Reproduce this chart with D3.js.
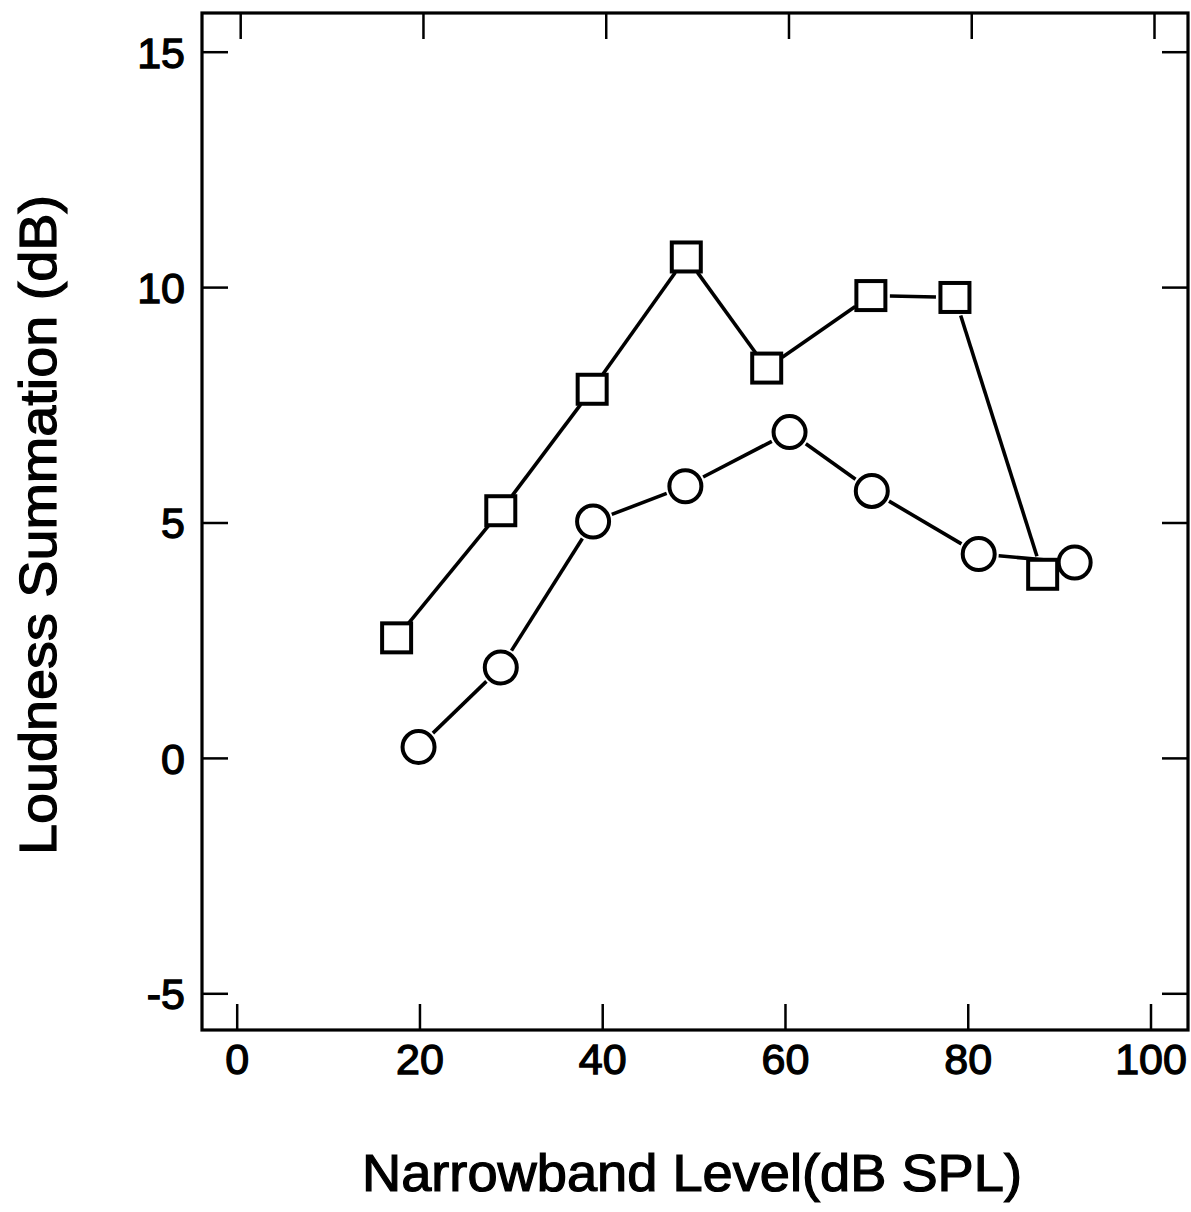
<!DOCTYPE html>
<html><head><meta charset="utf-8">
<script src="https://cdn.jsdelivr.net/npm/d3@7"></script>
<style>body{margin:0;background:#fff}svg{display:block}text{font-family:"Liberation Sans",Arial,Helvetica,sans-serif;fill:#000}</style>
</head><body>
<svg id="c" width="1191" height="1212"></svg>
<script>
const squareX = [17.5, 28.9, 38.9, 49.2, 58.0, 69.4, 78.6, 88.2];
const squareY = [2.55, 5.25, 7.83, 10.64, 8.28, 9.82, 9.78, 3.9];
const circleX = [19.9, 28.9, 39.0, 49.1, 60.5, 69.5, 81.2, 91.7];
const circleY = [0.23, 1.92, 5.02, 5.77, 6.92, 5.67, 4.33, 4.15];
const xTicks = [0, 20, 40, 60, 80, 100];
const yTicks = [-5, 0, 5, 10, 15];
const xTitle = "Narrowband Level(dB SPL)";
const yTitle = "Loudness Summation (dB)";

const svg = d3.select("#c");
const L = 202, R = 1188, T = 13, B = 1030;
const x = d3.scaleLinear().domain([0, 100]).range([236.7, 1150.5]);
const y = d3.scaleLinear().domain([-5, 15]).range([993.3, 51.7]);

const tl = 26, tw = 2.5, fs = 43;
function styleText(sel) {
  sel.attr("font-size", fs).attr("stroke", "#000").attr("stroke-width", 1.3).attr("fill", "#000");
}
svg.append("g").attr("transform", `translate(0,${B})`)
  .call(d3.axisBottom(x).tickValues(xTicks).tickSizeInner(-tl).tickSizeOuter(0))
  .call(g => g.select(".domain").remove())
  .call(g => g.selectAll("line").attr("stroke-width", tw))
  .call(g => g.selectAll("text").attr("dy", "0.72em").attr("y", 13).call(styleText));
svg.append("g").attr("transform", `translate(3.5,${T})`)
  .call(d3.axisTop(x).tickValues(xTicks).tickSizeInner(-tl).tickSizeOuter(0).tickFormat(""))
  .call(g => g.select(".domain").remove())
  .call(g => g.selectAll("line").attr("stroke-width", tw));
svg.append("g").attr("transform", `translate(${L},0)`)
  .call(d3.axisLeft(y).tickValues(yTicks).tickSizeInner(-tl).tickSizeOuter(0))
  .call(g => g.select(".domain").remove())
  .call(g => g.selectAll("line").attr("stroke-width", tw))
  .call(g => g.selectAll("text").attr("x", -17).attr("dy", "0.36em").call(styleText));
svg.append("g").attr("transform", `translate(${R},0)`)
  .call(d3.axisRight(y).tickValues(yTicks).tickSizeInner(-tl).tickSizeOuter(0).tickFormat(""))
  .call(g => g.select(".domain").remove())
  .call(g => g.selectAll("line").attr("stroke-width", tw));
svg.selectAll(".tick text").text(function(){ return this.textContent.replace("\u2212", "-"); });

svg.append("rect").attr("x", L).attr("y", T).attr("width", R - L).attr("height", B - T)
  .attr("fill", "none").attr("stroke", "#000").attr("stroke-width", 3.2);

function series(xs, ys, r) {
  const pts = xs.map((v, i) => [x(v), y(ys[i])]);
  const g = svg.append("g");
  for (let i = 0; i < pts.length - 1; i++) {
    const [x1, y1] = pts[i], [x2, y2] = pts[i + 1];
    const d = Math.hypot(x2 - x1, y2 - y1), ux = (x2 - x1) / d, uy = (y2 - y1) / d;
    g.append("line").attr("x1", x1 + ux * r).attr("y1", y1 + uy * r)
      .attr("x2", x2 - ux * r).attr("y2", y2 - uy * r)
      .attr("stroke", "#000").attr("stroke-width", 3.6);
  }
  return pts;
}
const cp = series(circleX, circleY, 20);
const sp = series(squareX, squareY, 19);
svg.append("g").selectAll("circle").data(cp).join("circle")
  .attr("cx", d => d[0]).attr("cy", d => d[1]).attr("r", 16)
  .attr("fill", "#fff").attr("stroke", "#000").attr("stroke-width", 4);
svg.append("g").selectAll("rect").data(sp).join("rect")
  .attr("x", d => d[0] - 14.5).attr("y", d => d[1] - 14.5).attr("width", 29).attr("height", 29)
  .attr("fill", "#fff").attr("stroke", "#000").attr("stroke-width", 4);

svg.append("text").attr("x", 362).attr("y", 1191)
  .attr("font-size", 51).attr("textLength", 660).attr("lengthAdjust", "spacingAndGlyphs")
  .attr("stroke", "#000").attr("stroke-width", 1.2).text(xTitle);
svg.append("text").attr("transform", "translate(56,855) rotate(-90)")
  .attr("font-size", 52).attr("textLength", 660).attr("lengthAdjust", "spacingAndGlyphs")
  .attr("stroke", "#000").attr("stroke-width", 1.2).text(yTitle);
</script>
</body></html>
